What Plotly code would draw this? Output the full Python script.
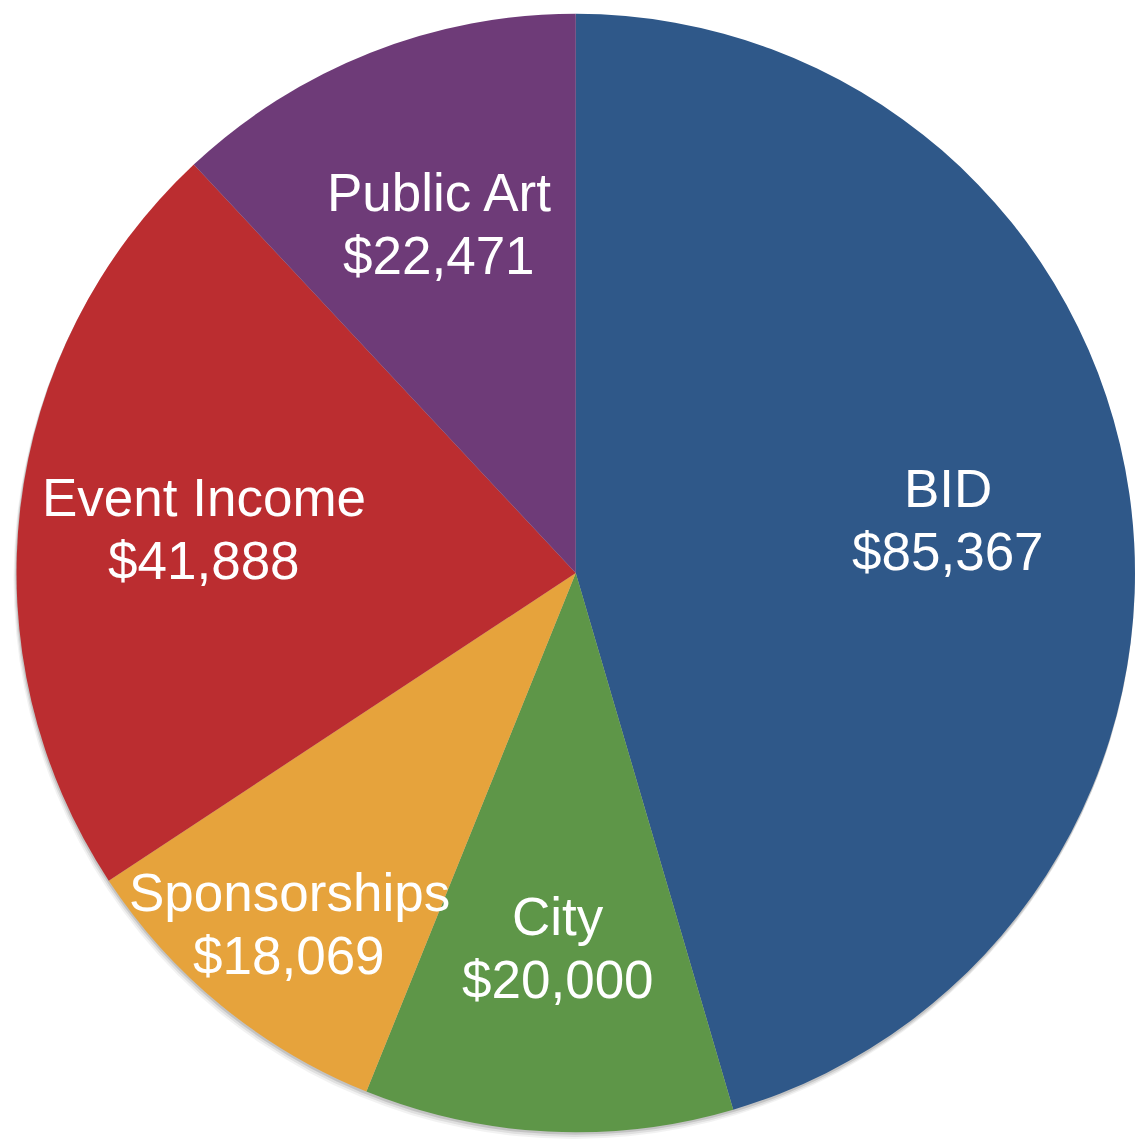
import math
import plotly.graph_objects as go

# Revenue sources
labels = ["BID", "City", "Sponsorships", "Event Income", "Public Art"]
values = [85367, 20000, 18069, 41888, 22471]
colors = ["#2F5889", "#5E9648", "#E6A33C", "#BB2D30", "#6E3B78"]

W, H = 1135, 1140
# pie placement (pixels from top-left)
CX, CY = 576.5, 573.0
R = 560.0
FONT_SIZE = 53
LINE_GAP = 63  # px between the two label lines


def clamp(v):
    return min(1.0, max(0.0, v))


def domain(cx, cy, r):
    return dict(x=[clamp((cx - r) / W), clamp((cx + r) / W)],
                y=[clamp((H - cy - r) / H), clamp((H - cy + r) / H)])


fig = go.Figure()

# soft drop shadow behind the pie
for dx, dy, a in [(-1, 2, 0.12), (-2, 4, 0.08), (-3, 6, 0.05)]:
    fig.add_trace(go.Pie(
        values=[1], labels=["shadow"], sort=False,
        marker=dict(colors=[f"rgba(0,0,0,{a})"], line=dict(width=0)),
        textinfo="none", hoverinfo="skip", showlegend=False,
        domain=domain(CX + dx, CY + dy, R),
    ))

fig.add_trace(go.Pie(
    labels=labels,
    values=values,
    sort=False,
    direction="clockwise",
    rotation=0,
    marker=dict(colors=colors, line=dict(width=0)),
    textinfo="none",
    hovertemplate="%{label}: $%{value:,}<extra></extra>",
    showlegend=False,
    domain=domain(CX, CY, R),
))

# label radius as fraction of pie radius (narrow slice label sits further out)
label_r = {"Sponsorships": 0.81}

total = sum(values)
start = 0.0
annotations = []
font = dict(family="Liberation Sans, Arial, sans-serif", size=FONT_SIZE, color="white")
for lab, val in zip(labels, values):
    sweep = 360.0 * val / total
    mid = math.radians(start + sweep / 2)
    start += sweep
    rr = label_r.get(lab, 0.67) * R
    px = CX + rr * math.sin(mid)
    py = CY - rr * math.cos(mid)
    for txt, shift in ((lab, LINE_GAP / 2), (f"${val:,}", -LINE_GAP / 2)):
        annotations.append(dict(
            x=px / W, y=(H - py) / H, xref="paper", yref="paper",
            text=txt, showarrow=False, font=font,
            xanchor="center", yanchor="middle", yshift=shift,
        ))

fig.update_layout(
    width=W, height=H,
    margin=dict(l=0, r=0, t=0, b=0),
    paper_bgcolor="white",
    plot_bgcolor="white",
    annotations=annotations,
)

fig.write_html("out.html")
